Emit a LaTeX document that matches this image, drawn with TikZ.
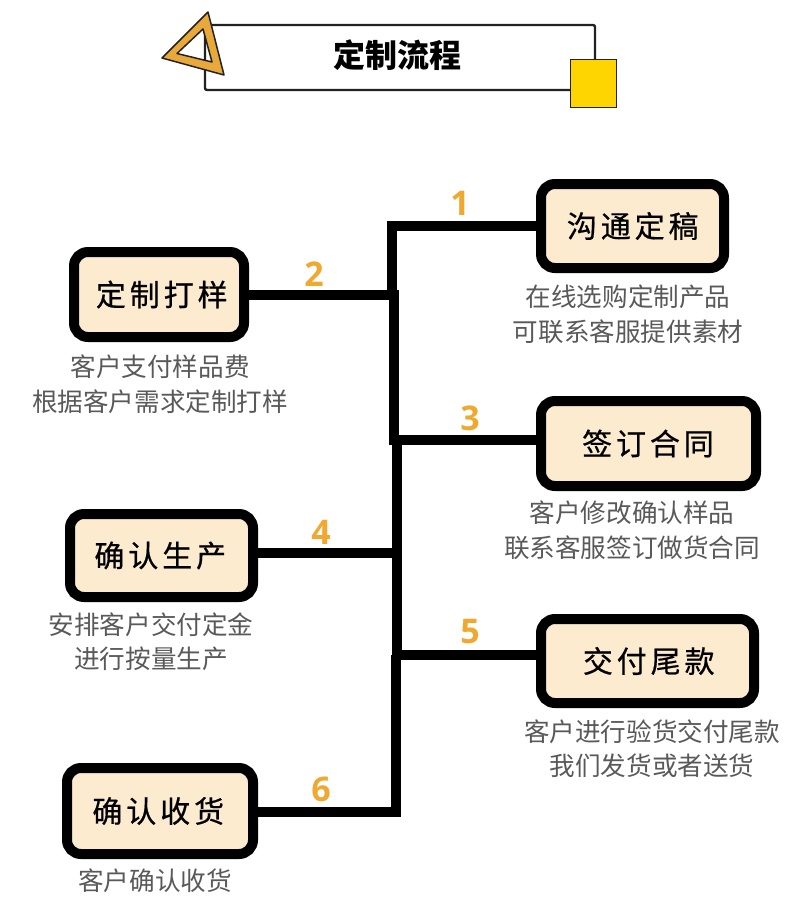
\documentclass[tikz,border=0pt]{standalone}
\usepackage{fontspec}
\setmainfont{Noto Sans CJK SC}
\newfontfamily\numfont{Open Sans}
\newfontfamily\boxfont[LetterSpace=13,FakeBold=0.6]{Noto Sans CJK SC}
\definecolor{boxfill}{HTML}{FCEBCF}
\definecolor{numorange}{HTML}{F0A830}
\definecolor{triorange}{HTML}{E9A93A}
\definecolor{sqyellow}{HTML}{FFD500}
\definecolor{bodygray}{HTML}{595959}
\definecolor{framedark}{HTML}{222222}
\tikzset{
  x=1pt,y=-1pt,
  stepbox/.style={draw=black,line width=10pt,fill=boxfill,rounded corners=14pt,inner sep=0pt,
    font=\boxfont\fontsize{30}{30}\selectfont,text=black},
  bodytext/.style={font=\fontsize{25.6}{34.5}\selectfont,text=bodygray,align=center,inner sep=0pt},
  stepnum/.style={font=\numfont\bfseries\fontsize{34}{34}\selectfont,text=numorange,inner sep=0pt},
  conn/.style={line width=10pt,draw=black,line join=miter},
}
\begin{document}
\begin{tikzpicture}
\useasboundingbox (0,0) rectangle (800,910);
% title banner
\node[draw=framedark,line width=2.4pt,rounded corners=2pt,minimum width=390pt,minimum height=65pt,inner sep=0pt] (frame) at (400,57.5) {};
\node[font=\bfseries\fontsize{32}{32}\selectfont,text=black,inner sep=0pt] (title) at (397,55) {定制流程};
\node[draw=framedark,line width=1.5pt,fill=sqyellow,minimum width=46pt,minimum height=48pt,inner sep=0pt] (square) at (593.5,83.5) {};
\fill[triorange,draw=framedark,line width=1.5pt,line join=round,even odd rule]
  (208,12) -- (162,58) -- (224,75) -- cycle
  (203,29) -- (177,53.5) -- (212,62) -- cycle;
% junctions
\coordinate (ja) at (392,226);
\coordinate (jb) at (393.5,295);
\coordinate (jc) at (396.5,440);
\coordinate (jd) at (396.5,553);
\coordinate (je) at (395.5,655);
\coordinate (jf) at (395.5,812);
% connectors
\draw[conn] (jb |- 0,290) -- (jb |- 0,445);
\draw[conn] (jc |- 0,440) -- (jc |- 0,655);
% boxes
\node[stepbox,minimum width=183pt,minimum height=84pt] (s1) at (632.5,226) {\hspace*{0.5pt}沟通定稿};
\node[stepbox,minimum width=170pt,minimum height=85pt] (s2) at (159,294.5) {\hspace*{5.5pt}定制打样};
\node[stepbox,minimum width=215pt,minimum height=85pt] (s3) at (648.5,443.5) {\hspace*{-1pt}签订合同};
\node[stepbox,minimum width=183pt,minimum height=83pt] (s4) at (161.5,555.5) {\hspace*{-2.5pt}确认生产};
\node[stepbox,minimum width=213pt,minimum height=84pt] (s5) at (647.5,661) {\hspace*{2.5pt}交付尾款};
\node[stepbox,minimum width=186pt,minimum height=86pt] (s6) at (160,811) {\hspace*{-3.5pt}确认收货};
% branches
\draw[conn] (s1.west |- ja) -- (ja) -- (392,295);
\draw[conn] (s2.east |- jb) -- (398,295);
\draw[conn] (s3.west |- jc) -- (jc);
\draw[conn] (s4.east |- jd) -- (401.5,553);
\draw[conn] (s5.west |- je) -- (je);
\draw[conn] (je) -- (jf) -- (s6.east |- jf);
% numbers
\node[stepnum] (n1) at (460,203) {1};
\node[stepnum] (n2) at (314,274) {2};
\node[stepnum] (n3) at (470,418) {3};
\node[stepnum] (n4) at (321,532) {4};
\node[stepnum] (n5) at (470,632) {5};
\node[stepnum] (n6) at (321,789) {6};
% descriptions
\node[bodytext] (d1) at (628,314.5) {在线选购定制产品\\可联系客服提供素材};
\node[bodytext] (d2) at (160,384) {客户支付样品费\\根据客户需求定制打样};
\node[bodytext] (d3) at (632,530.5) {客户修改确认样品\\联系客服签订做货合同};
\node[bodytext] (d4) at (151,641.5) {安排客户交付定金\\进行按量生产};
\node[bodytext] (d5) at (652,748.5) {客户进行验货交付尾款\\我们发货或者送货};
\node[bodytext] (d6) at (155,881) {客户确认收货};
\end{tikzpicture}
\end{document}
